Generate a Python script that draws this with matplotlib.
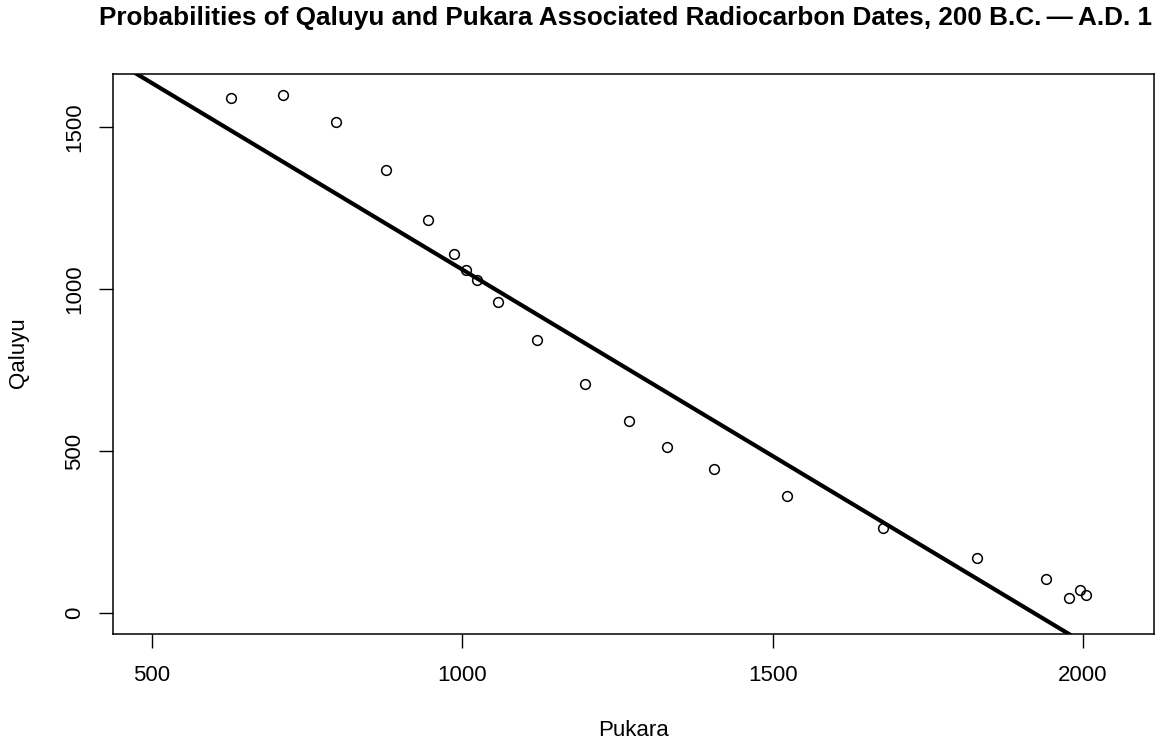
import matplotlib
matplotlib.use("Agg")
import matplotlib.pyplot as plt

# ---- datos ----
pukara = [627, 711, 797, 877, 945, 987, 1006, 1023, 1058, 1121, 1197,
          1268, 1329, 1405, 1523, 1677, 1829, 1940, 1977, 1995, 2005]
qaluyu = [1590, 1599, 1515, 1367, 1213, 1108, 1059, 1028, 960, 843, 707,
          593, 512, 444, 361, 262, 170, 105, 46, 71, 56]
fit_intercept = 2211.0
fit_slope = -1.151

x_ticks = [500, 1000, 1500, 2000]
y_ticks = [0, 500, 1000, 1500]
titulo = "Probabilities of Qaluyu and Pukara Associated Radiocarbon Dates, 200 B.C.\u2009\u2014\u2009A.D. 1"

plt.rcParams['font.family'] = ['Liberation Sans', 'DejaVu Sans']

W, H = 1162, 743
fig = plt.figure(figsize=(W / 100, H / 100), dpi=100)
ax = fig.add_axes([113 / W, 1 - 634 / H, (1154 - 113) / W, (634 - 74) / H])

ax.plot(pukara, qaluyu, 'o', mfc='none', mec='black', ms=7, mew=1.1)

xl = (437.2, 2114.3)
ax.plot(xl, [fit_intercept + fit_slope * v for v in xl], color='black', lw=3)

ax.set_xlim(*xl)
ax.set_ylim(-64.8, 1663.6)
ax.set_xticks(x_ticks)
ax.set_yticks(y_ticks)
ax.set_yticklabels([str(v) for v in y_ticks], rotation=90, va='center')
ax.tick_params(length=10, width=1, labelsize=16, color='black')
ax.tick_params(axis='x', pad=12)
ax.tick_params(axis='y', pad=10)
for s in ax.spines.values():
    s.set_linewidth(1.1)

# titulo (cortado a la derecha, como en el original)
fig.text(99 / W, 1 - 18 / H, titulo, fontsize=18.8, fontweight='bold',
         ha='left', va='center')
fig.text(633 / W, 1 - 730 / H, "Pukara", fontsize=16, ha='center', va='center')
fig.text(18 / W, 1 - 353 / H, "Qaluyu", fontsize=16, ha='center', va='center',
         rotation=90)

fig.savefig("out.png", dpi=100)
